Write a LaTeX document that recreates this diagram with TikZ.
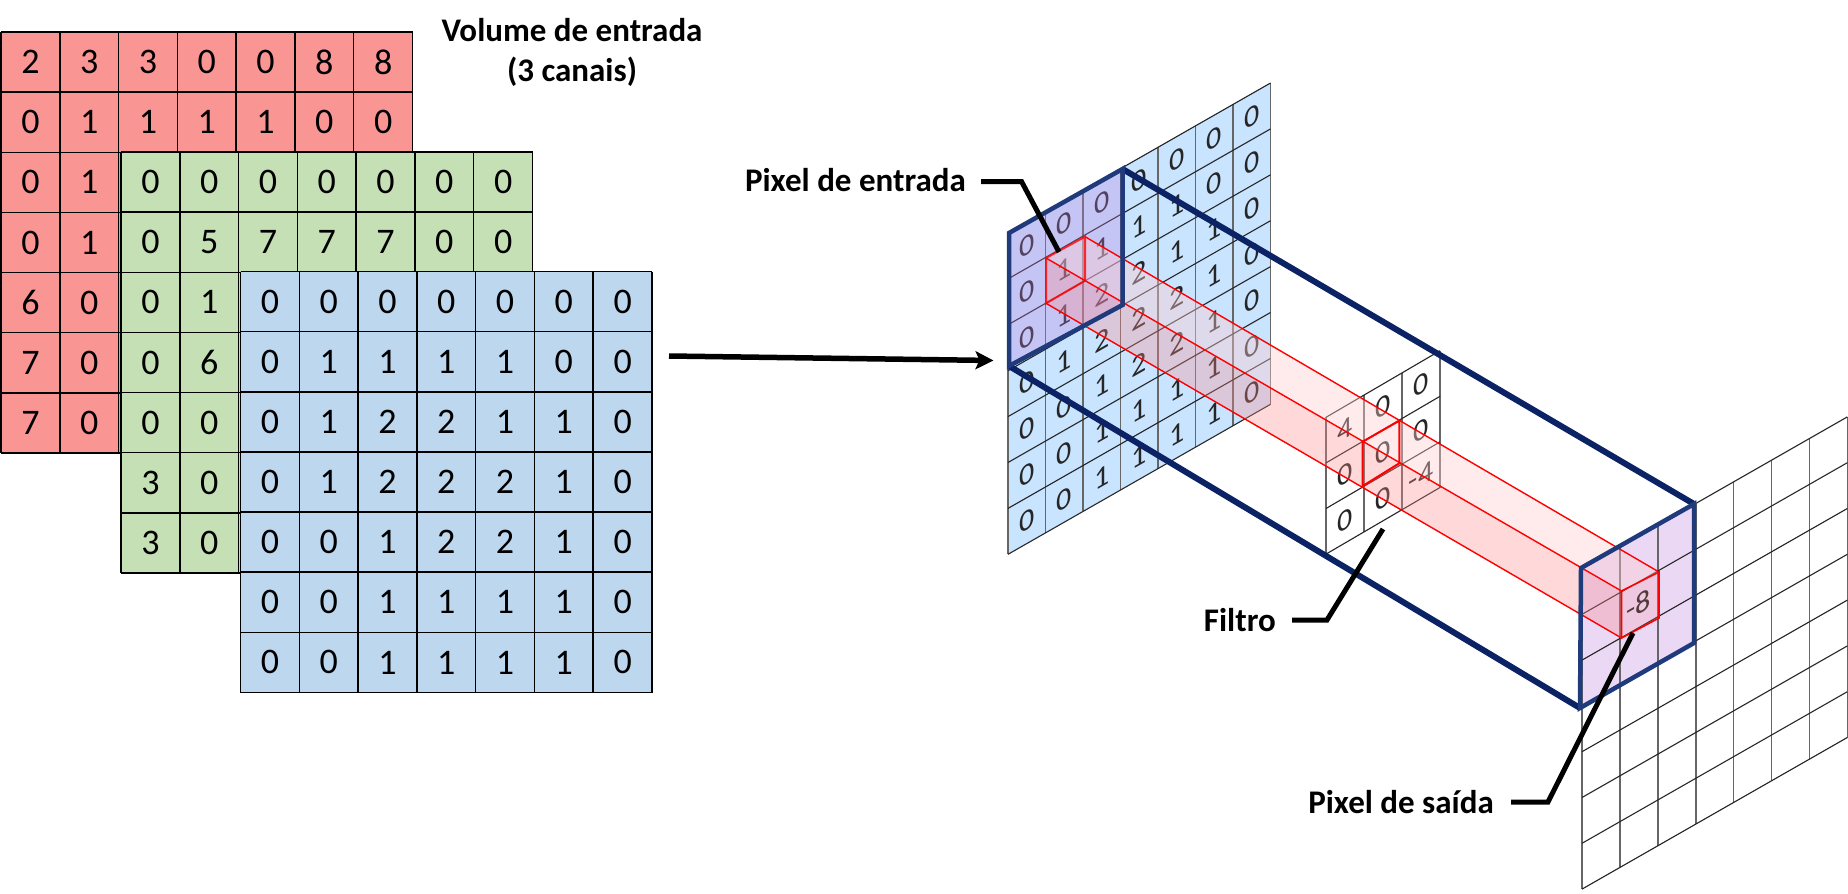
\documentclass[tikz,border=0pt]{standalone}
\usepackage{fontspec}
\setmainfont{Carlito}
\usetikzlibrary{arrows.meta}
\definecolor{cred}{HTML}{F99694}
\definecolor{cgreen}{HTML}{C5E0B4}
\definecolor{cblue}{HTML}{BDD7EE}
\definecolor{cplane}{HTML}{C9E4FF}
\definecolor{navyA}{HTML}{1F3B7C}
\definecolor{navyB}{HTML}{0B2265}
\definecolor{lav}{HTML}{BC80E0}
\definecolor{faceTop}{HTML}{FFCDCD}
\definecolor{faceLow}{HTML}{FF8C8C}
\tikzset{
  x=1pt,y=-1pt,
  gridline/.style={draw=black,line width=1.5pt},
  flatdigit/.style={inner sep=0pt,font=\fontsize{36}{40}\selectfont},
  planedigit/.style={inner sep=0pt,transform shape,font=\fontsize{30}{34}\selectfont,text=black!85},
  planeV/.style={draw=black!60,line width=1.6pt},
  planeH/.style={draw=black!85,line width=1.1pt},
  title/.style={inner sep=0pt,align=center,font=\bfseries\fontsize{33}{40}\selectfont},
  leader/.style={draw=black,line width=5pt},
  hlborder/.style={draw=navyA,line width=4.5pt,line join=miter},
  tube/.style={draw=navyB,line width=6pt},
  beamline/.style={draw=red,line width=1.4pt},
  beamcell/.style={draw=red,line width=2pt,line join=miter},
}
\newcommand{\flatbg}[3]{%
  \fill[#3] (#1,#2) rectangle ++(411.5,421);
  \foreach \k in {0,...,7}{
    \draw[gridline] ({#1+\k*58.79},#2) -- ++(0,421);
    \draw[gridline] (#1,{#2+\k*60.14}) -- ++(411.5,0);
  }}
\newcommand{\flatdigits}[4]{%
  \foreach \rowdata [count=\r] in {#4}
    \foreach \d [count=\c] in \rowdata
      \node[flatdigit] (#1-\r-\c) at ({#2+(\c-.5)*58.79},{#3+(\r-.5)*60.14}) {\d};}
\newcommand{\planegrid}[4]{%
  \foreach \k in {0,...,#3} \draw[planeV] ({\k*#1},0) -- ({\k*#1},{#4*#2});
  \foreach \k in {0,...,#4} \draw[planeH] (0,{\k*#2}) -- ({#3*#1},{\k*#2});}
\begin{document}
\begin{tikzpicture}
\useasboundingbox (0,0) rectangle (1848,894);
\fill[white] (0,0) rectangle (1848,894);
% ---------- flat volumes
\flatbg{1}{32}{cred}
\flatdigits{r}{1}{32}{{2,3,3,0,0,8,8},{0,1,1,1,1,0,0},{0,1},{0,1},{6,0},{7,0},{7,0}}
\flatbg{121}{152}{cgreen}
\flatdigits{g}{121}{152}{{0,0,0,0,0,0,0},{0,5,7,7,7,0,0},{0,1},{0,6},{0,0},{3,0},{3,0}}
\flatbg{240.5}{271.5}{cblue}
\flatdigits{b}{240.5}{271.5}{{0,0,0,0,0,0,0},{0,1,1,1,1,0,0},{0,1,2,2,1,1,0},{0,1,2,2,2,1,0},{0,0,1,2,2,1,0},{0,0,1,1,1,1,0},{0,0,1,1,1,1,0}}
\node[title] (vol) at (572,52) {Volume de entrada\\(3 canais)};
% ---------- input plane
\begin{scope}[cm={1,0.5714,0,1,(1008,233)}]
  \fill[cplane] (0,0) rectangle (262.5,321.3);
  \planegrid{37.5}{45.9}{7}{7}
  \foreach \rowdata [count=\r] in {{0,0,0,0,0,0,0},{0,1,1,1,1,0,0},{0,1,2,2,1,1,0},{0,1,2,2,2,1,0},{0,0,1,2,2,1,0},{0,0,1,1,1,1,0},{0,0,1,1,1,1,0}}
    \foreach \d [count=\c] in \rowdata
      \node[planedigit] (in-\r-\c) at ({(\c-.5)*37.5},{(\r-.5)*45.9}) {\d};
\end{scope}
\coordinate (hA) at (1009,233);
\coordinate (hB) at (1122.5,169);
\coordinate (hC) at (1122.5,305);
\coordinate (hD) at (1009,366);
\fill[lav,opacity=.3] (hA) -- (hB) -- (hC) -- (hD) -- cycle;
% ---------- filter plane
\begin{scope}[cm={1,0.5842,0,1,(1326,417.3)}]
  \planegrid{38}{45.6}{3}{3}
  \foreach \rowdata [count=\r] in {{4,0,0},{0,0,0},{0,0,-4}}
    \foreach \d [count=\c] in \rowdata
      \node[planedigit] (fi-\r-\c) at ({(\c-.5)*38},{(\r-.5)*45.6}) {\d};
\end{scope}
% ---------- output plane
\coordinate (oA) at (1581,568);
\coordinate (oB) at (1694,504);
\coordinate (oC) at (1694,643);
\coordinate (oD) at (1580,708);
\fill[lav,opacity=.3] (oA) -- (oB) -- (oC) -- (oD) -- cycle;
\begin{scope}[cm={1,0.5714,0,1,(1582,568.5)}]
  \planegrid{37.9}{45.8}{7}{7}
  \node[planedigit] (out) at ({1.5*37.9},{1.5*45.8}) {-8};
\end{scope}
% ---------- beam
\coordinate (iTL) at (1046,258);
\coordinate (iTR) at (1085,236.7);
\coordinate (iBR) at (1085,280.7);
\coordinate (iBL) at (1046,303.3);
\coordinate (uTL) at (1621.5,591);
\coordinate (uTR) at (1659,572);
\coordinate (uBR) at (1659,618);
\coordinate (uBL) at (1621.5,638);
\coordinate (fTL) at (1362.7,441.7);
\coordinate (fTR) at (1399.3,420.7);
\coordinate (fBR) at (1399.3,463.3);
\coordinate (fBL) at (1362.7,486);
\fill[faceTop,opacity=.4] (iTL) -- (iTR) -- (uTR) -- (uTL) -- cycle;
\fill[faceLow,opacity=.33] (iTL) -- (iBL) -- (uBL) -- (uTL) -- cycle;
\fill[faceLow,opacity=.2] (uTL) -- (uTR) -- (uBR) -- (uBL) -- cycle;
\draw[beamline] (iTR) -- (uTR);
\draw[beamline] (iTL) -- (uTL);
\draw[beamline] (iBL) -- (uBL);
\draw[beamcell,draw opacity=.8] (iTL) -- (iTR) -- (iBR) -- (iBL) -- cycle;
\draw[beamcell] (fTL) -- (fTR) -- (fBR) -- (fBL) -- cycle;
\draw[beamcell,line width=1.6pt] (uTL) -- (uTR) -- (uBR) -- (uBL) -- cycle;
% ---------- highlight frames and tube
\draw[tube] (hB) -- (oB);
\draw[tube] (hD) -- (oD);
\draw[hlborder] (hA) -- (hB) -- (hC) -- (hD) -- cycle;
\draw[hlborder] (oA) -- (oB) -- (oC) -- (oD) -- cycle;
% ---------- arrow
\coordinate (arS) at (669,356);
\coordinate (arT) at (993.5,360.5);
\draw[line width=5.5pt,-{Stealth[length=18pt,width=18pt,inset=4pt]}] (arS) -- (arT);
% ---------- labels
\node[title,anchor=east] (lpe) at (966,180) {Pixel de entrada};
\node[title,anchor=east] (lfi) at (1276,620) {Filtro};
\node[title,anchor=east] (lps) at (1494,802) {Pixel de saída};
\coordinate (peS) at (981,181.5);
\coordinate (peB) at (1021.5,181.5);
\coordinate (peE) at (1059,252);
\draw[leader,line join=miter] (peS) -- (peB) -- (peE);
\coordinate (fiS) at (1292,620);
\coordinate (fiB) at (1327,620);
\coordinate (fiE) at (1383,529);
\draw[leader,line join=miter] (fiS) -- (fiB) -- (fiE);
\coordinate (psS) at (1511,802);
\coordinate (psB) at (1548,802);
\coordinate (psE) at (1633,633);
\draw[leader,line join=miter] (psS) -- (psB) -- (psE);
\end{tikzpicture}
\end{document}
